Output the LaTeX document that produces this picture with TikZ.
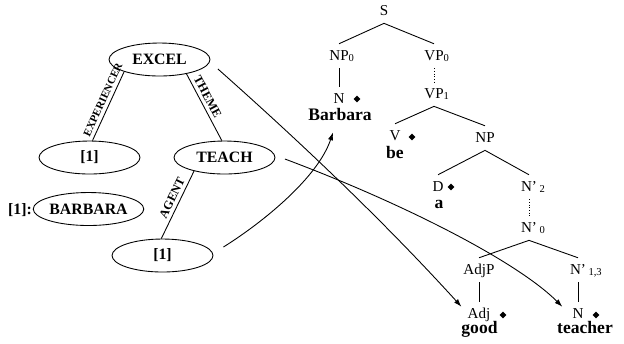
\documentclass[tikz,border=0pt]{standalone}
\usepackage{fontspec}
\setmainfont{Liberation Serif}
\usepackage{tikz}
\usetikzlibrary{arrows.meta, shapes.geometric}

\tikzset{
  sem/.style={draw, ellipse, minimum width=2.02cm, minimum height=0.66cm, inner sep=0pt, font=\bfseries\fontsize{9}{10}\selectfont},
  role/.style={font=\bfseries\fontsize{7}{8}\selectfont, inner sep=2pt, sloped, above},
  cat/.style={anchor=base, inner xsep=1pt, inner ysep=3pt, text height=6pt, text depth=1.5pt, font=\fontsize{8.6}{10}\selectfont},
  word/.style={anchor=base, inner sep=1pt, font=\bfseries\fontsize{10}{12}\selectfont},
  head/.style={diamond, fill=black, inner sep=0pt, minimum size=4pt},
  link/.style={-{Latex[length=4.5pt,width=3pt]}},
}

\begin{document}
\begin{tikzpicture}[x=0.02cm, y=-0.02cm, line width=0.5pt]
    \useasboundingbox (0,0) rectangle (624,343);
    % Semantic graph
    \node[sem] (excel) at (159.5,59.5) {EXCEL};
    \node[sem] (lone) at (89.5,157.5) {[1]};
    \node[sem] (teach) at (224.5,157.5) {TEACH};
    \node[sem] (bone) at (162.5,255.5) {[1]};
    \node[sem] (barbara) at (88.5,209) {BARBARA};
    \node[font=\bfseries\fontsize{9}{10}\selectfont, inner sep=1pt] (tag) at (20,210) {[1]:};
    % Roles
    \draw (excel.199) -- (lone.80) node[role, pos=0.45, font=\bfseries\fontsize{6.2}{7}\selectfont] {EXPERIENCER};
    \draw (excel.332) -- (teach.99) node[role, pos=0.4] {THEME};
    \draw (teach.204) -- (bone.94) node[role, pos=0.45] {AGENT};
    % Tree nodes
    \node[cat] (s) at (384,15) {S};
    \node[cat] (np0) at (339,60) {NP\rlap{\textsubscript{0}}};
    \node[cat] (vp0) at (434,60) {VP\rlap{\textsubscript{0}}};
    \node[cat] (n1) at (339,103) {N};
    \node[word] (barb) at (340,120) {Barbara};
    \node[cat] (vp1) at (434,98) {VP\rlap{\textsubscript{1}}};
    \node[cat] (v) at (395,140) {V};
    \node[word] (be) at (395,158) {be};
    \node[cat] (np) at (485,142) {NP};
    \node[cat] (d) at (438,191) {D};
    \node[word] (a) at (439,208) {a};
    \node[cat] (n2) at (529,191) {N’\rlap{\,\textsubscript{2}}};
    \node[cat] (n0) at (529,232) {N’\rlap{\,\textsubscript{0}}};
    \node[cat] (adjp) at (479,274) {AdjP};
    \node[cat] (n13) at (578,274) {N’\rlap{\,\textsubscript{1,3}}};
    \node[cat] (adj) at (479,318) {Adj};
    \node[word] (good) at (479.5,333) {good};
    \node[cat] (nt) at (578,318) {N};
    \node[word] (teacher) at (585,333) {teacher};
    % Heads
    \node[head] (hn) at (357,99) {};
    \node[head] (hv) at (412,137) {};
    \node[head] (hd) at (451,187) {};
    \node[head] (hadj) at (503,315) {};
    \node[head] (hnt) at (596,315) {};
    % Branches
    \draw (s.south) -- (np0.north);
    \draw (s.south) -- (vp0.north);
    \draw (np0.south) -- (n1.north);
    \draw[densely dotted] (vp0.south) -- (vp1.north);
    \draw (vp1.south) -- (v.north);
    \draw (vp1.south) -- (np.north);
    \draw (np.south) -- (d.north);
    \draw (np.south) -- (n2.north);
    \draw[densely dotted] (n2.south) -- (n0.north);
    \draw (n0.south) -- (adjp.north);
    \draw (n0.south) -- (n13.north);
    \draw (adjp.south) -- (adj.north);
    \draw (n13.south) -- (nt.north);
    % Links from graph to tree
    \draw[link] ([shift={(7.5,9.5)}]excel.east) .. controls +(80,71) and +(-80,-88) .. ([shift={(-4,5)}]adj.north west);
    \draw[link] ([shift={(9.5,1.5)}]teach.east) .. controls +(120,45) and +(-45,-45) .. ([shift={(-8,5)}]nt.north west);
    \draw[link] ([shift={(10,-8.5)}]bone.east) .. controls +(40,-25) and +(-15,45) .. ([shift={(-7,10)}]barb.south);
\end{tikzpicture}
\end{document}
